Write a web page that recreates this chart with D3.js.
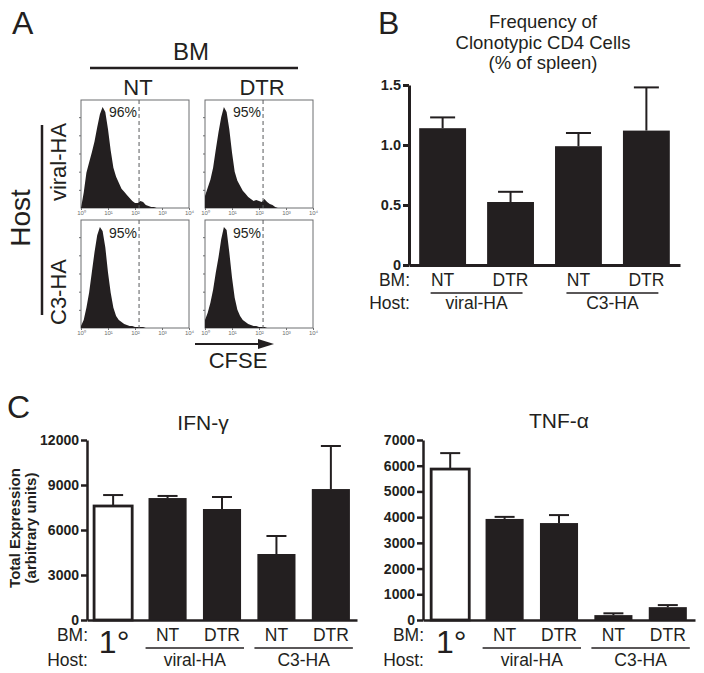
<!DOCTYPE html>
<html>
<head>
<meta charset="utf-8">
<script src="https://cdn.jsdelivr.net/npm/d3@7"></script>
<style>
  body { margin: 0; background: #fff; }
  svg text { font-family: "Liberation Sans", Arial, sans-serif; fill: #231f20; }
</style>
</head>
<body>
<svg id="fig" width="704" height="673"></svg>
<script>
// ---- data: panel A (CFSE histograms, % of peak per 0.1 decade) ----
let cfseDecades = [0, 0.1, 0.2, 0.3, 0.4, 0.5, 0.6, 0.7, 0.8, 0.9, 1.0, 1.1, 1.2, 1.3, 1.4, 1.5,
  1.6, 1.7, 1.8, 1.9, 2.0, 2.1, 2.2, 2.3, 2.4, 2.5, 2.6, 2.7, 2.8, 2.9, 3.0];
let histViralNT  = [0, 15, 35, 45, 55, 66, 80, 93, 100, 95, 78, 57, 40, 31, 25, 19, 16, 13, 10, 7, 5, 5, 7, 6, 3, 2, 1, 1, 0, 0, 0];
let histViralDTR = [12, 20, 28, 40, 58, 75, 90, 100, 95, 78, 55, 36, 27, 22, 17, 14, 11, 9, 7, 8, 7, 6, 9, 6, 4, 3, 1, 0, 0, 0, 0];
let histC3NT     = [2, 8, 20, 35, 55, 75, 92, 100, 96, 80, 55, 35, 20, 12, 8, 6, 4, 3, 2, 2, 1, 1, 1, 1, 0, 0, 0, 0, 0, 0, 0];
let histC3DTR    = [8, 15, 25, 38, 55, 70, 88, 100, 97, 75, 50, 30, 18, 12, 8, 6, 4, 3, 2, 2, 1, 1, 1, 0, 0, 0, 0, 0, 0, 0, 0];
let pctLabels = ["96%", "95%", "95%", "95%"];
let gateDecade = 2.15;
let bmCols = ["NT", "DTR"];
let hostRows = ["viral-HA", "C3-HA"];

// ---- data: panel B ----
let freqKeys = ["vNT", "vDTR", "cNT", "cDTR"];
let freqBM = ["NT", "DTR", "NT", "DTR"];
let freqMean = [1.14, 0.525, 0.99, 1.12];
let freqErr = [1.23, 0.61, 1.10, 1.48];
let freqTicks = [0, 0.5, 1.0, 1.5];

// ---- data: panel C ----
let cytoKeys = ["p", "vNT", "vDTR", "cNT", "cDTR"];
let cytoBM = ["1°", "NT", "DTR", "NT", "DTR"];
let ifnMean = [7600, 8130, 7400, 4400, 8730];
let ifnErr = [8330, 8270, 8200, 5600, 11600];
let ifnTicks = [0, 3000, 6000, 9000, 12000];
let tnfMean = [5870, 3930, 3770, 190, 500];
let tnfErr = [6490, 4010, 4080, 260, 580];
let tnfTicks = [0, 1000, 2000, 3000, 4000, 5000, 6000, 7000];

let ink = "#231f20";
let svg = d3.select("#fig");

function txt(x, y, s, size, anchor, weight) {
  return svg.append("text").attr("x", x).attr("y", y).text(s)
    .style("font-size", size + "px").attr("text-anchor", anchor || "middle")
    .style("font-weight", weight || "normal");
}
function hline(x1, x2, y, w) {
  svg.append("line").attr("x1", x1).attr("x2", x2).attr("y1", y).attr("y2", y)
    .attr("stroke", ink).attr("stroke-width", w || 2);
}

// panel letters
txt(12, 34, "A", 32, "start");
txt(378, 34, "B", 32, "start");
txt(7, 418, "C", 32, "start");

// ================= Panel A =================
let boxSize = 108;
let colX = [81, 205];
let rowY = [100, 220];
let xDec = d3.scaleLinear().domain([0, 4]).range([0, boxSize]);
let yHist = d3.scaleLinear().domain([0, 107]).range([boxSize, 0]);
let hists = [[histViralNT, histViralDTR], [histC3NT, histC3DTR]];
let sup = ["⁰", "¹", "²", "³", "⁴"];

txt(191, 60, "BM", 24);
hline(90, 298, 68, 2.5);
bmCols.forEach((c, i) => txt(colX[i] + boxSize / 2 + 3, 95, c, 22));

svg.append("text").attr("transform", "translate(30,218) rotate(-90)")
  .attr("text-anchor", "middle").style("font-size", "28px").text("Host");
svg.append("line").attr("x1", 42).attr("x2", 42).attr("y1", 125).attr("y2", 315)
  .attr("stroke", ink).attr("stroke-width", 2.5);
hostRows.forEach((h, r) => {
  svg.append("text").attr("transform", "translate(66," + (rowY[r] + 62 + r * 10) + ") rotate(-90)")
    .attr("text-anchor", "middle").style("font-size", "22px").text(h);
});

let area = d3.area()
  .x((d, i) => xDec(cfseDecades[i]))
  .y0(yHist(0))
  .y1(d => yHist(d));

hists.forEach((row, r) => {
  row.forEach((vals, c) => {
    let g = svg.append("g").attr("transform", "translate(" + colX[c] + "," + rowY[r] + ")");
    g.append("rect").attr("width", boxSize).attr("height", boxSize)
      .attr("fill", "none").attr("stroke", "#6d6e70").attr("stroke-width", 1);
    g.append("path").datum(vals).attr("d", area).attr("fill", ink);
    g.append("line").attr("x1", xDec(gateDecade)).attr("x2", xDec(gateDecade))
      .attr("y1", 0).attr("y2", boxSize)
      .attr("stroke", "#58595b").attr("stroke-width", 1).attr("stroke-dasharray", "4,3");
    g.append("text").attr("x", xDec(gateDecade) - 2).attr("y", r === 0 ? 17 : 18)
      .attr("text-anchor", "end").style("font-size", "14px").text(pctLabels[r * 2 + c]);
    let ay = g.append("g").call(d3.axisLeft(yHist).tickValues([18, 36, 54, 72, 90]).tickSize(2).tickFormat(""));
    ay.select(".domain").remove();
    ay.selectAll("line").attr("stroke", "#6d6e70");
    let ax = g.append("g").attr("transform", "translate(0," + boxSize + ")")
      .call(d3.axisBottom(xDec).tickValues([0, 1, 2, 3, 4]).tickSize(2).tickPadding(1)
        .tickFormat(d => "10" + sup[d]));
    ax.select(".domain").remove();
    ax.selectAll("line").attr("stroke", "#6d6e70");
    ax.selectAll("text").style("font-size", "6px").style("fill", "#6d6e70");
  });
});

// CFSE arrow
let arrowY = rowY[1] + boxSize + 16;
svg.append("line").attr("x1", 195).attr("x2", 262).attr("y1", arrowY).attr("y2", arrowY)
  .attr("stroke", ink).attr("stroke-width", 2);
svg.append("path").attr("d", d3.line()([[258, arrowY - 5], [274, arrowY], [258, arrowY + 5]]))
  .attr("fill", ink);
txt(238, arrowY + 24, "CFSE", 22);

// ================= bar chart helper =================
function barChart(o) {
  let x = d3.scaleBand().domain(o.keys).range(o.xRange)
    .paddingInner(o.padIn).paddingOuter(o.padOut);
  let y = d3.scaleLinear().domain(o.yDomain).range(o.yRange);
  let g = svg.append("g");

  g.selectAll("rect.bar").data(o.mean).join("rect").attr("class", "bar")
    .attr("x", (d, i) => x(o.keys[i]))
    .attr("width", x.bandwidth())
    .attr("y", d => y(d))
    .attr("height", d => y(0) - y(d))
    .attr("fill", (d, i) => o.hollow && i === 0 ? "#fff" : ink)
    .attr("stroke", (d, i) => o.hollow && i === 0 ? ink : "none")
    .attr("stroke-width", 2.8);

  // error bars (upper only)
  g.selectAll("line.err").data(o.err).join("line").attr("class", "err")
    .attr("x1", (d, i) => x(o.keys[i]) + x.bandwidth() / 2)
    .attr("x2", (d, i) => x(o.keys[i]) + x.bandwidth() / 2)
    .attr("y1", (d, i) => y(o.mean[i]))
    .attr("y2", d => y(d))
    .attr("stroke", ink).attr("stroke-width", 2);
  g.selectAll("line.cap").data(o.err).join("line").attr("class", "cap")
    .attr("x1", (d, i) => x(o.keys[i]) + x.bandwidth() / 2 - o.cap / 2)
    .attr("x2", (d, i) => x(o.keys[i]) + x.bandwidth() / 2 + o.cap / 2)
    .attr("y1", d => y(d)).attr("y2", d => y(d))
    .attr("stroke", ink).attr("stroke-width", 2);

  let ay = g.append("g").attr("transform", "translate(" + o.xRange[0] + ",0)")
    .call(d3.axisLeft(y).tickValues(o.ticks).tickSize(6).tickSizeOuter(0).tickPadding(2)
      .tickFormat(o.fmt));
  ay.select(".domain").attr("stroke", ink).attr("stroke-width", o.axisW);
  ay.selectAll(".tick line").attr("stroke", ink).attr("stroke-width", o.axisW);
  ay.selectAll("text").style("font-size", o.tickSize + "px").style("font-weight", "bold")
    .style("font-family", "'Liberation Sans', Arial, sans-serif").style("fill", ink);

  let ax = g.append("g").attr("transform", "translate(0," + y(0) + ")")
    .call(d3.axisBottom(x).tickSize(0).tickSizeOuter(0).tickFormat(""));
  ax.select(".domain").attr("stroke", ink).attr("stroke-width", o.axisW);

  // BM / Host rows
  txt(o.xRange[0] + 1, o.bmY, "BM:", o.labSize, "end");
  txt(o.xRange[0] + 1, o.hostY, "Host:", o.labSize, "end");
  o.bm.forEach((b, i) => {
    let cx = x(o.keys[i]) + x.bandwidth() / 2;
    if (b === "1°") txt(cx + 1, o.hostY - 13, b, 32);
    else txt(cx, o.bmY, b, o.labSize);
  });
  o.groups.forEach(gr => {
    let x1 = x(gr.from) + x.bandwidth() / 2 - o.lineOver;
    let x2 = x(gr.to) + x.bandwidth() / 2 + o.lineOver;
    hline(x1, x2, o.bmY + 7, 1.5);
    txt((x1 + x2) / 2, o.hostY, gr.name, o.labSize);
  });
  return { x, y };
}

// ================= Panel B =================
txt(543, 28, "Frequency of", 18.5);
txt(543, 49, "Clonotypic CD4 Cells", 18.5);
txt(543, 69, "(% of spleen)", 18.5);
barChart({
  keys: freqKeys, mean: freqMean, err: freqErr, bm: freqBM,
  xRange: [409, 680], padIn: 0.31, padOut: 0.15,
  yDomain: [0, 1.5], yRange: [265, 85], ticks: freqTicks,
  fmt: d => d === 0 ? "0" : d3.format(".1f")(d),
  cap: 25, axisW: 3, tickSize: 14.5, labSize: 17.5,
  bmY: 286, hostY: 309, lineOver: 12,
  groups: [{ name: "viral-HA", from: "vNT", to: "vDTR" }, { name: "C3-HA", from: "cNT", to: "cDTR" }]
});

// ================= Panel C =================
txt(203, 430, "IFN-γ", 21);
txt(559, 428, "TNF-α", 21);
svg.append("text").attr("transform", "translate(20,528) rotate(-90)")
  .attr("text-anchor", "middle").style("font-size", "15px").style("font-weight", "bold").text("Total Expression");
svg.append("text").attr("transform", "translate(36,528) rotate(-90)")
  .attr("text-anchor", "middle").style("font-size", "15px").style("font-weight", "bold").text("(arbitrary units)");

let cytoGroups = [{ name: "viral-HA", from: "vNT", to: "vDTR" }, { name: "C3-HA", from: "cNT", to: "cDTR" }];
barChart({
  keys: cytoKeys, mean: ifnMean, err: ifnErr, bm: cytoBM, hollow: true,
  xRange: [87, 357], padIn: 0.3, padOut: 0.13,
  yDomain: [0, 12000], yRange: [620, 440], ticks: ifnTicks, fmt: d3.format("d"),
  cap: 20, axisW: 2.5, tickSize: 14, labSize: 17.5,
  bmY: 641, hostY: 666, lineOver: 22,
  groups: cytoGroups
});
barChart({
  keys: cytoKeys, mean: tnfMean, err: tnfErr, bm: cytoBM, hollow: true,
  xRange: [423, 695], padIn: 0.3, padOut: 0.15,
  yDomain: [0, 7000], yRange: [620, 440], ticks: tnfTicks, fmt: d3.format("d"),
  cap: 20, axisW: 2.5, tickSize: 14, labSize: 17.5,
  bmY: 641, hostY: 666, lineOver: 22,
  groups: cytoGroups
});
</script>
</body>
</html>
